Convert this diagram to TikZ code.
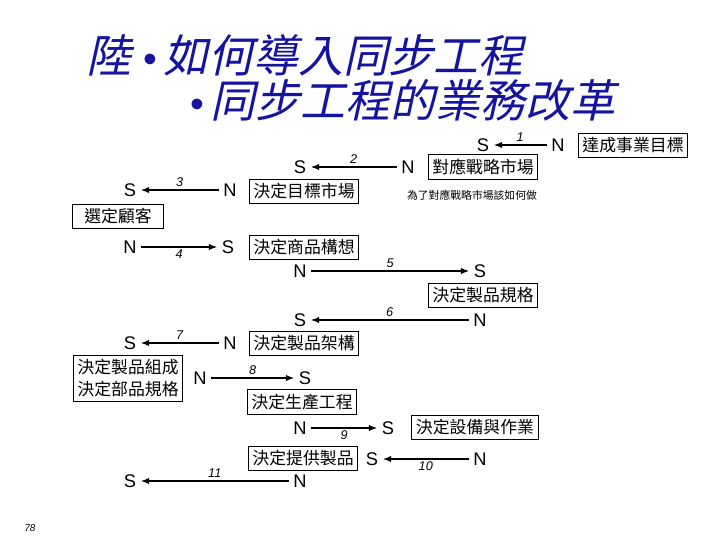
\documentclass[tikz,border=0pt]{standalone}
\usepackage{fontspec}
\setmainfont{Liberation Sans}
\newfontfamily\cjk{Noto Sans CJK TC}
\newfontfamily\cjkslant[FakeSlant=0.22]{Noto Sans CJK TC}
\usetikzlibrary{arrows.meta,positioning}
\definecolor{titleblue}{HTML}{1414A0}

\begin{document}
\begin{tikzpicture}[x=0.025cm,y=-0.025cm,
  box/.style={draw,line width=0.6pt,font=\cjk\fontsize{12}{15.5}\selectfont,
    inner sep=3pt,minimum height=0.52cm,align=center},
  sn/.style={font=\fontsize{13}{14}\selectfont,inner sep=3pt},
  num/.style={font=\itshape\fontsize{9}{10}\selectfont,inner sep=1.5pt},
  note/.style={font=\cjk\fontsize{7.7}{9}\selectfont,inner sep=0pt},
  ttl/.style={font=\cjkslant\fontsize{32}{36}\selectfont,color=titleblue,inner sep=0pt,anchor=west},
  dot/.style={font=\fontsize{28}{28}\selectfont,color=titleblue,inner sep=0pt},
  arr/.style={-{Latex[length=6pt,width=4.5pt]},line width=1.4pt}]
  \useasboundingbox (0,0) rectangle (720,540);
  % title
  \node[ttl] (ttl1) at (86,55) {陸};
  \node[dot] (dot1) at (150,63) {•};
  \node[ttl] (ttl1b) at (163,55) {如何導入同步工程};
  \node[dot] (dot2) at (197,108) {•};
  \node[ttl] (ttl2) at (210,100) {同步工程的業務改革};
  % boxes
  \node[box] (goal) at (633,145) {達成事業目標};
  \node[box] (strat) at (483,167) {對應戰略市場};
  \node[note] (how) at (472,195) {為了對應戰略市場該如何做};
  \node[box] (target) at (304,191) {決定目標市場};
  \node[box,minimum width=2.27cm] (cust) at (118,216) {選定顧客};
  \node[box] (concept) at (304,247) {決定商品構想};
  \node[box] (spec) at (483,295) {決定製品規格};
  \node[box] (arch) at (304,343) {決定製品架構};
  \node[box] (comp) at (128,378) {決定製品組成\\決定部品規格};
  \node[box] (proc) at (302,402) {決定生產工程};
  \node[box] (equip) at (475,427) {決定設備與作業};
  \node[box] (supply) at (303,458) {決定提供製品};
  % S / N
  \node[sn] (s1) at (483,145) {S};  \node[sn] (n1) at (558,145) {N};
  \node[sn] (s2) at (300,167) {S};  \node[sn] (n2) at (408,167) {N};
  \node[sn] (s3) at (130,190) {S};  \node[sn] (n3) at (230,190) {N};
  \node[sn] (n4) at (130,247) {N};  \node[sn] (s4) at (228,247) {S};
  \node[sn] (n5) at (300,271) {N};  \node[sn] (s5) at (480,271) {S};
  \node[sn] (s6) at (300,320) {S};  \node[sn] (n6) at (480,320) {N};
  \node[sn] (s7) at (130,343) {S};  \node[sn] (n7) at (230,343) {N};
  \node[sn] (n8) at (200,378) {N};  \node[sn] (s8) at (305,378) {S};
  \node[sn] (n9) at (300,428) {N};  \node[sn] (s9) at (388,428) {S};
  \node[sn] (s10) at (372,459) {S}; \node[sn] (n10) at (480,459) {N};
  \node[sn] (s11) at (130,481) {S}; \node[sn] (n11) at (300,481) {N};
  % arrows
  \draw[arr] (n1) -- node[num,above] {1} (s1);
  \draw[arr] (n2) -- node[num,above] {2} (s2);
  \draw[arr] (n3) -- node[num,above] {3} (s3);
  \draw[arr] (n4) -- node[num,below] {4} (s4);
  \draw[arr] (n5) -- node[num,above] {5} (s5);
  \draw[arr] (n6) -- node[num,above] {6} (s6);
  \draw[arr] (n7) -- node[num,above] {7} (s7);
  \draw[arr] (n8) -- node[num,above] {8} (s8);
  \draw[arr] (n9) -- node[num,below] {9} (s9);
  \draw[arr] (n10) -- node[num,below] {10} (s10);
  \draw[arr] (n11) -- node[num,above] {11} (s11);
  \node[font=\itshape\fontsize{7}{8}\selectfont] (page) at (30,528) {78};
\end{tikzpicture}
\end{document}
